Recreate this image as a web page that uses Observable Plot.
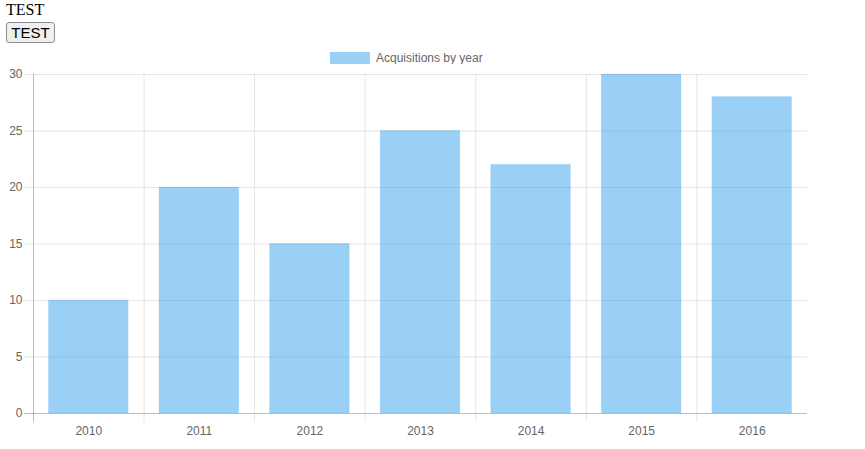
<!DOCTYPE html>
<html>
<head>
<meta charset="utf-8">
<script src="https://cdn.jsdelivr.net/npm/d3@7"></script>
<script src="https://cdn.jsdelivr.net/npm/@observablehq/plot@0.6"></script>
<style>
  html, body { margin: 0; padding: 0; background: #fff; width: 865px; height: 449px; overflow: hidden; }
  #title { position: absolute; left: 6px; top: 1px; font-family: "Liberation Serif", "Times New Roman", serif; font-size: 16px; line-height: 18px; color: #000; }
  #btn { position: absolute; left: 6px; top: 22px; width: 49px; height: 21px; padding: 0; font-family: "Liberation Sans", Arial, sans-serif; font-size: 15px; line-height: 17px; background: #efefef; border: 1px solid #8f8f8f; border-radius: 3px; color: #000; }
  #legend { position: absolute; top: 51px; left: 330px; height: 14px; display: flex; align-items: center; font-family: "Liberation Sans", Arial, Helvetica, sans-serif; font-size: 12px; color: #666; }
  #legend .sw { width: 40px; height: 12px; background: rgba(54,162,235,0.5); border: 0; margin-right: 6px; box-sizing: border-box; }
  #chart { position: absolute; left: 0; top: 64px; }
</style>
</head>
<body>
<div id="title">TEST</div>
<button id="btn">TEST</button>
<div id="legend"><div class="sw"></div><span>Acquisitions by year</span></div>
<div id="chart"></div>
<script>
const years = ["2010", "2011", "2012", "2013", "2014", "2015", "2016"];
const acquisitions = [10, 20, 15, 25, 22, 30, 28];
const yTicks = [0, 5, 10, 15, 20, 25, 30];
const seriesName = "Acquisitions by year";

const data = years.map((y, i) => ({year: y, value: acquisitions[i]}));

const W = 865, H = 385;
const mL = 33, mR = 58, mT = 10, mB = 36;
const step = (W - mL - mR) / years.length;
const inset = step * 0.14;
const grid = "rgba(0,0,0,0.1)";
const zero = "rgba(0,0,0,0.25)";

const plot = Plot.plot({
  width: W,
  height: H,
  marginLeft: mL,
  marginRight: mR,
  marginTop: mT,
  marginBottom: mB,
  style: {fontFamily: "'Liberation Sans', Arial, Helvetica, sans-serif", fontSize: "12px", color: "#666", background: "#fff"},
  x: {type: "band", domain: years, padding: 0, round: false, label: null},
  y: {domain: [0, 30], label: null},
  marks: [
    // horizontal gridlines with tick stubs
    Plot.ruleY(yTicks.filter(d => d !== 0), {y: d => d, stroke: grid, strokeWidth: 1, insetLeft: -9}),
    // vertical gridlines at band starts, extending as tick marks below the axis
    Plot.ruleX(years, {
      x: d => d, dx: -step / 2, y1: 30, y2: 0, insetBottom: -9,
      stroke: d => d === years[0] ? zero : grid, strokeWidth: 1
    }),
    Plot.barY(data, {x: "year", y: "value", fill: "rgba(54,162,235,0.5)", stroke: "rgba(54,162,235,0.15)", strokeWidth: 1, insetLeft: inset, insetRight: inset}),
    Plot.ruleY([0], {stroke: zero, strokeWidth: 1, insetLeft: -9}),
    Plot.axisX({tickSize: 0, tickPadding: 13, fill: "#666", fontSize: 12}),
    Plot.axisY({ticks: yTicks, tickSize: 0, tickPadding: 11, fill: "#666", fontSize: 12})
  ]
});
document.getElementById("chart").appendChild(plot);
</script>
</body>
</html>
